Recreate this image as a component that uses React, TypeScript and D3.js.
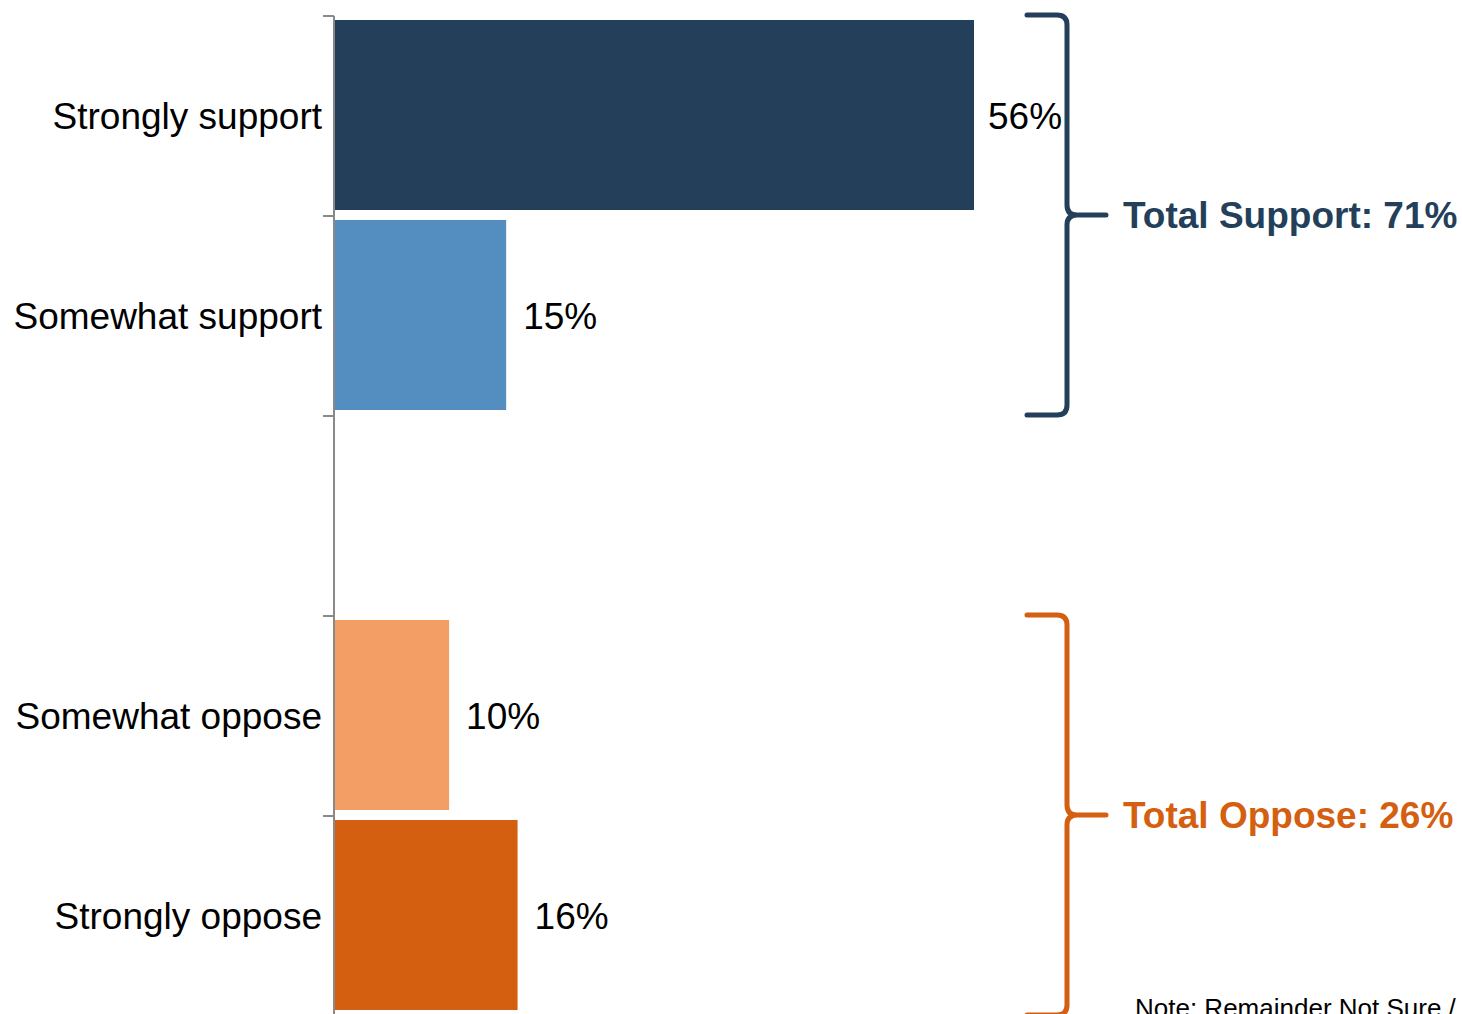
import * as React from 'react';
import * as d3 from 'd3';

const categories = ['Strongly support', 'Somewhat support', '', 'Somewhat oppose', 'Strongly oppose'];
const values = [56, 15, null, 10, 16];
const barColors = ['#243F5A', '#548EC0', 'none', '#F29E65', '#D45F11'];

const groups = [
  { label: 'Total Support: 71%', from: 'Strongly support', to: 'Somewhat support', color: '#243F5A' },
  { label: 'Total Oppose: 26%', from: 'Somewhat oppose', to: 'Strongly oppose', color: '#D45F11' },
];

const noteText = 'Note: Remainder Not Sure / Refused';

const W = 1462;
const H = 1014;
const font = '"Liberation Sans", Arial, sans-serif';

function bracketPath(top: number, bot: number, x0: number, xv: number, xt: number) {
  const r = 10;
  const mid = (top + bot) / 2;
  return [
    `M${x0},${top}`,
    `H${xv - r}`,
    `Q${xv},${top} ${xv},${top + r}`,
    `V${mid - r}`,
    `Q${xv},${mid} ${xv + r},${mid}`,
    `H${xt}`,
    `M${xv + r},${mid}`,
    `Q${xv},${mid} ${xv},${mid + r}`,
    `V${bot - r}`,
    `Q${xv},${bot} ${xv - r},${bot}`,
    `H${x0}`,
  ].join(' ');
}

export default function App() {
  const axisX = 334;
  const y = d3.scaleBand<string>().domain(categories.map((c, i) => c || `gap${i}`)).range([16, 1016]);
  const x = d3.scaleLinear().domain([0, 56]).range([axisX + 1, 974]);
  const keys = y.domain();

  return (
    <svg
      width={W}
      height={H}
      style={{ position: 'absolute', left: 0, top: 0, background: '#fff' }}
      fontFamily={font}
    >
      {/* axis line and ticks at band edges */}
      <line x1={axisX} x2={axisX} y1={16} y2={1016} stroke="#898989" strokeWidth={2} />
      {keys.concat(['__end']).map((k, i) => {
        const ty = i < keys.length ? (y(k) as number) : 1016;
        return <line key={'t' + i} x1={axisX - 11} x2={axisX} y1={ty} y2={ty} stroke="#898989" strokeWidth={2} />;
      })}

      {keys.map((k, i) => {
        const v = values[i];
        const by = y(k) as number;
        const bw = y.bandwidth();
        return (
          <g key={k}>
            {categories[i] && (
              <text x={322} y={by + bw / 2} dy="0.35em" textAnchor="end" fontSize={37} fill="#000">
                {categories[i]}
              </text>
            )}
            {v != null && (
              <>
                <rect x={x(0)} y={by + 4} width={x(v) - x(0)} height={bw - 10} fill={barColors[i]} />
                <text x={x(v) + (v > 40 ? 14 : 17)} y={by + bw / 2} dy="0.35em" fontSize={37} fill="#000">
                  {v}%
                </text>
              </>
            )}
          </g>
        );
      })}

      {groups.map((g) => {
        const top = (y(g.from) as number) - 1;
        const bot = (y(g.to) as number) + y.bandwidth() - 1;
        const mid = (top + bot) / 2;
        return (
          <g key={g.label}>
            <path
              d={bracketPath(top, bot, 1027, 1067, 1106)}
              fill="none"
              stroke={g.color}
              strokeWidth={5}
              strokeLinecap="round"
              strokeLinejoin="round"
            />
            <text x={1123} y={mid} dy="0.35em" fontSize={37} fontWeight="bold" fill={g.color}>
              {g.label}
            </text>
          </g>
        );
      })}

      <text x={1135} y={1017} fontSize={26} fill="#000">
        {noteText}
      </text>
    </svg>
  );
}
